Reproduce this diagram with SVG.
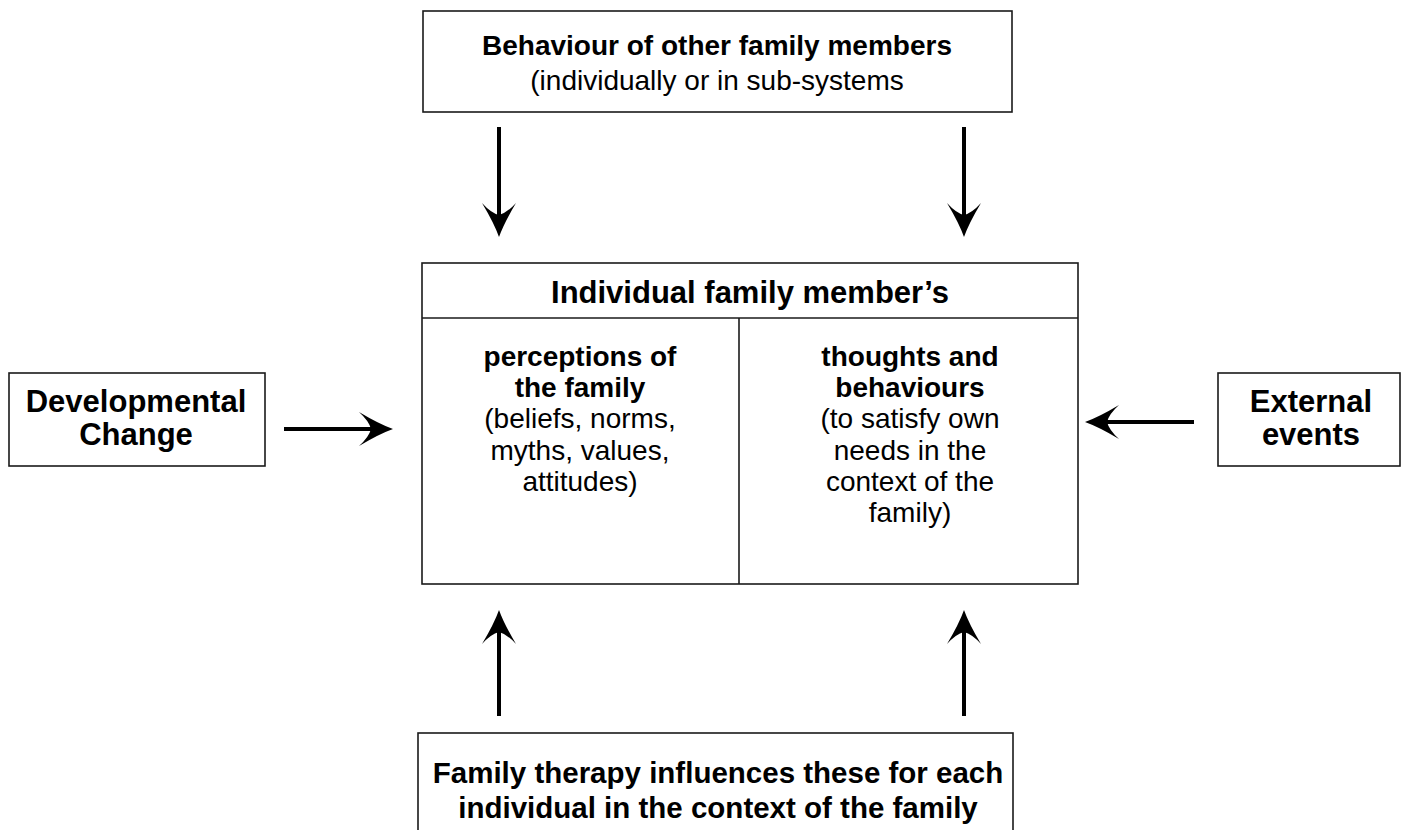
<svg xmlns="http://www.w3.org/2000/svg" width="1413" height="830" viewBox="0 0 1413 830">
  <defs>
    <style>
      .box { fill: #ffffff; stroke: #1a1a1a; stroke-width: 1.6; }
      .rule { stroke: #1a1a1a; stroke-width: 1.6; fill: none; }
      .t { font-family: "Liberation Sans", Arial, Helvetica, sans-serif; font-size: 28px; fill: #000; text-anchor: middle; }
      .b { font-weight: bold; }
      .lg { font-size: 31px; }
      .md { font-size: 29.5px; }
      .arrow { stroke: #000; stroke-width: 4; fill: none; marker-end: url(#head); }
    </style>
    <!-- swept-back filled arrowhead; tip at x=34, notch at x=12 -->
    <marker id="head" markerUnits="userSpaceOnUse" markerWidth="40" markerHeight="40"
            viewBox="0 -20 36 40" refX="14" refY="0" orient="auto" overflow="visible">
      <path d="M34,0 Q20,-5 0,-17 Q10,-8 12,0 Q10,8 0,17 Q20,5 34,0 Z" fill="#000"/>
    </marker>
  </defs>

  <rect width="1413" height="830" fill="#ffffff"/>

  <!-- connectors -->
  <g id="connectors">
    <line class="arrow" x1="499" y1="127" x2="499" y2="217"/>
    <line class="arrow" x1="964" y1="127" x2="964" y2="217"/>
    <line class="arrow" x1="284" y1="429" x2="373" y2="429"/>
    <line class="arrow" x1="1194" y1="422" x2="1105" y2="422"/>
    <line class="arrow" x1="499" y1="716" x2="499" y2="630"/>
    <line class="arrow" x1="964" y1="716" x2="964" y2="630"/>
  </g>

  <!-- behaviour of other members -->
  <g id="node-others">
    <rect class="box" x="423" y="11" width="589" height="101"/>
    <text class="t b" x="717" y="55">Behaviour of other family members</text>
    <text class="t" x="717" y="90">(individually or in sub-systems</text>
  </g>

  <!-- individual member: header row plus two columns -->
  <g id="node-individual">
    <rect class="box" x="422" y="263" width="656" height="321"/>
    <line class="rule" x1="422" y1="318" x2="1078" y2="318"/>
    <line class="rule" x1="739" y1="318" x2="739" y2="584"/>
    <text class="t b lg" x="750" y="303">Individual family member’s</text>
  </g>

  <g id="node-perceptions">
    <text class="t b" x="580" y="366">perceptions of</text>
    <text class="t b" x="580" y="397">the family</text>
    <text class="t" x="580" y="428">(beliefs, norms,</text>
    <text class="t" x="580" y="460">myths, values,</text>
    <text class="t" x="580" y="491">attitudes)</text>
  </g>

  <g id="node-thoughts">
    <text class="t b" x="910" y="366">thoughts and</text>
    <text class="t b" x="910" y="397">behaviours</text>
    <text class="t" x="910" y="428">(to satisfy own</text>
    <text class="t" x="910" y="460">needs in the</text>
    <text class="t" x="910" y="491">context of the</text>
    <text class="t" x="910" y="522">family)</text>
  </g>

  <g id="node-developmental">
    <rect class="box" x="9" y="373" width="256" height="93"/>
    <text class="t b lg" x="136" y="412">Developmental</text>
    <text class="t b lg" x="136" y="445">Change</text>
  </g>

  <g id="node-external">
    <rect class="box" x="1218" y="373" width="182" height="93"/>
    <text class="t b lg" x="1311" y="412">External</text>
    <text class="t b lg" x="1311" y="445">events</text>
  </g>

  <g id="node-therapy">
    <rect class="box" x="418" y="733" width="595" height="110"/>
    <text class="t b md" x="718" y="783">Family therapy influences these for each</text>
    <text class="t b md" x="718" y="818">individual in the context of the family</text>
  </g>
</svg>
